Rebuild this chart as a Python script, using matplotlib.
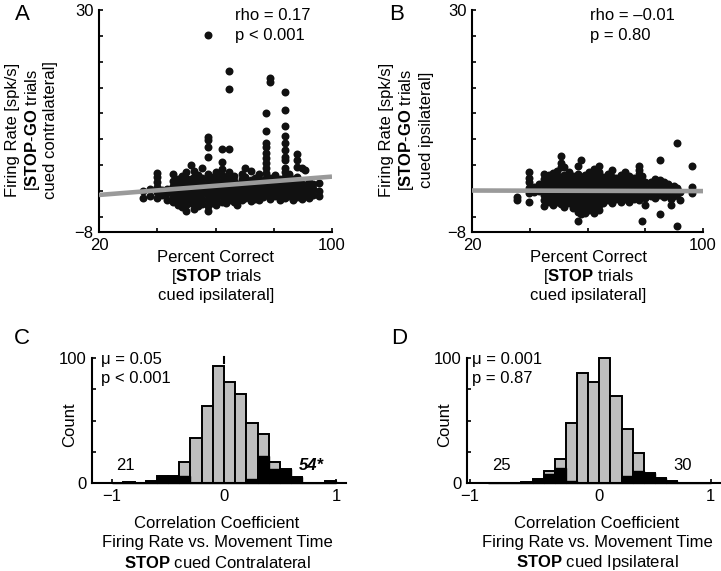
"""
Firing rate vs. percent correct (A, B) and correlation coefficient histograms (C, D).
"""

import numpy as np
import matplotlib
matplotlib.use("Agg")
import matplotlib.pyplot as plt

plt.rcParams["font.family"] = ["Liberation Sans", "DejaVu Sans"]
plt.rcParams["mathtext.fontset"] = "custom"
plt.rcParams["mathtext.rm"] = "Liberation Sans"
plt.rcParams["mathtext.bf"] = "Liberation Sans:bold"
plt.rcParams["mathtext.it"] = "Liberation Sans:italic"

# ---- Panel A: neurons grouped by session (percent correct) ----
a_pct = [35.0, 37.5, 39.8, 41.5, 43.2, 45.5, 47.0, 48.5, 50.0, 51.5, 52.5, 54.0,
         55.5, 57.3, 58.5, 60.0, 62.3, 63.5, 64.6, 66.5, 67.5, 69.0, 70.3, 72.2,
         73.5, 75.0, 76.3, 77.2, 78.7, 80.3, 82.0, 84.0, 85.2, 86.5, 87.9, 89.6,
         90.8, 92.0, 93.5, 95.5]
a_rate = [
    [-2.2, -1.0],
    [-1.8, -0.6],
    [-2.1, -1.2, -0.3, 0.6, 1.4, 2.1],
    [-1.6, -0.8],
    [-2.5, -1.4, -0.6],
    [-2.8, -2.0, -1.1, -0.2, 0.8, 2.0],
    [-3.4, -2.5, -1.6, -0.7, 0.2, 1.0],
    [-3.8, -2.9, -2.0, -1.1, -0.2, 0.7, 1.6],
    [-4.4, -3.4, -2.5, -1.6, -0.7, 0.2, 1.2, 2.2],
    [-3.0, -1.9, -0.9, 0.1, 1.1, 3.5],
    [-4.0, -3.1, -2.2, -1.3, -0.4, 0.6, 1.5, 2.4],
    [-3.6, -2.7, -1.8, -0.9, 0.0, 0.9, 1.8],
    [-3.2, -2.3, -1.4, -0.5, 0.4, 1.3, 2.9],
    [-4.4, -3.5, -2.6, -1.7, -0.8, 0.1, 1.0, 2.0, 4.9, 6.6, 7.7, 8.3, 25.7],
    [-3.0, -2.1, -1.2, -0.3, 0.6, 1.5],
    [-3.3, -2.4, -1.5, -0.6, 0.3, 1.2, 2.2],
    [-2.8, -1.9, -1.0, -0.1, 0.8, 1.7, 2.8, 4.0, 6.2],
    [-3.1, -2.2, -1.3, -0.4, 0.5, 1.4],
    [-2.5, -1.6, -0.7, 0.2, 1.1, 2.2, 6.2, 16.5, 19.6],
    [-2.9, -2.0, -1.1, -0.2, 0.7, 1.6],
    [-3.4, -2.4, -1.5, -0.6, 0.3],
    [-2.6, -1.7, -0.8, 0.1, 1.0, 2.0],
    [-2.2, -1.3, -0.4, 0.5, 1.4, 3.0],
    [-2.7, -1.8, -0.9, 0.0, 0.9, 2.4],
    [-2.3, -1.4, -0.5, 0.4, 1.3],
    [-2.6, -1.7, -0.8, 0.1, 1.0, 1.9],
    [-2.0, -1.1, -0.2, 0.7],
    [-1.5, -0.6, 0.3, 1.2, 2.1, 3.0, 3.8, 4.7, 5.5, 6.6, 7.2, 9.3, 12.3],
    [-2.4, -1.5, -0.6, 0.3, 1.2, 17.7, 18.3],
    [-1.9, -1.0, -0.1, 0.8, 1.7],
    [-2.6, -1.7, -0.8, 0.1, 1.0],
    [-2.2, -1.3, -0.4, 0.5, 1.4, 2.3, 3.0, 4.3, 4.9, 6.0, 7.2, 8.4, 10.1, 12.9, 16.0],
    [-1.8, -0.9, 0.0, 0.9, 2.0],
    [-2.5, -1.6, -0.7, 0.2, 1.1],
    [-2.0, -1.1, -0.2, 0.7, 1.5, 3.2, 4.3, 5.3],
    [-2.4, -1.5, -0.6, 0.3, 3.0],
    [-1.8, -0.9, 0.0, 2.6],
    [-2.2, -1.3, -0.4, 0.5],
    [-1.6, -0.7, 0.2],
    [-1.9, -1.0, 0.4],
]
a_fit = (0.0392, -2.44)          # slope, intercept
a_stats = ["rho = 0.17", "p < 0.001"]

# ---- Panel B ----
b_pct = [35.5, 39.7, 41.5, 43.2, 45.0, 46.5, 48.0, 49.5, 50.8, 52.0, 53.5, 55.0,
         56.6, 57.6, 59.0, 60.5, 62.3, 64.0, 65.5, 67.0, 68.5, 70.0, 71.5, 73.0,
         74.5, 76.0, 77.7, 78.8, 80.0, 82.0, 83.5, 85.0, 86.5, 88.0, 89.0, 90.0,
         91.0, 92.2, 96.1]
b_rate = [
    [-2.0, -2.6],
    [-2.9, -1.4, -0.5, 0.6, 1.3, 2.2],
    [-1.2, -0.3],
    [-1.0, 0.2],
    [-3.6, -2.6, -1.7, -0.8, 0.1, 1.0, 2.0],
    [-2.8, -1.9, -1.0, -0.1, 0.8, 1.7],
    [-3.3, -2.4, -1.5, -0.6, 0.3, 1.2, 2.1],
    [-2.9, -2.0, -1.1, -0.2, 0.7, 1.6, 2.5],
    [-3.2, -2.2, -1.3, -0.4, 0.5, 1.4, 3.2, 3.8, 5.0],
    [-3.7, -2.8, -1.9, -1.0, -0.1, 0.8, 1.7, 3.2],
    [-3.1, -2.2, -1.3, -0.4, 0.5, 1.4, 2.3],
    [-3.9, -2.9, -2.0, -1.1, -0.2, 0.7, 1.6],
    [-6.2, -4.5, -3.5, -2.6, -1.7, -0.8, 0.1, 1.0, 1.9, 3.3],
    [-5.0, -4.0, -3.1, -2.2, -1.3, -0.4, 0.5, 1.4, 4.4],
    [-4.7, -3.7, -2.8, -1.9, -1.0, -0.1, 0.8, 1.7],
    [-4.2, -3.3, -2.4, -1.5, -0.6, 0.3, 1.2, 2.2],
    [-4.7, -3.7, -2.8, -1.9, -1.0, -0.1, 0.8, 1.8, 2.8],
    [-4.3, -3.3, -2.4, -1.5, -0.6, 0.3, 1.2, 2.2, 3.3],
    [-3.0, -2.1, -1.2, -0.3, 0.6, 1.5],
    [-2.6, -1.7, -0.8, 0.1, 1.0, 2.0],
    [-3.0, -2.1, -1.2, -0.3, 0.6, 1.5, 2.6],
    [-2.4, -1.5, -0.6, 0.3, 1.2],
    [-2.9, -2.0, -1.1, -0.2, 0.7, 1.7],
    [-2.4, -1.5, -0.6, 0.3, 1.2, 2.3],
    [-2.8, -1.9, -1.0, -0.1, 0.8, 1.6],
    [-2.3, -1.4, -0.5, 0.4, 1.3],
    [-2.6, -1.7, -0.8, 0.1, 1.0, 1.9, 2.6, 3.3],
    [-6.1, -1.9, -1.0, -0.1, 0.8, 1.6],
    [-3.4, -2.2, -1.3, -0.4, 0.5],
    [-1.8, -0.9, 0.0, 0.6],
    [-2.1, -1.2, -0.3, 0.5, 1.1],
    [-4.9, -1.7, -0.8, 0.1, 0.9, 4.3],
    [-2.0, -1.1, -0.2, 0.5],
    [-1.6, -0.7, 0.2],
    [-3.3, -2.3],
    [-1.8, -0.9, -0.1],
    [-6.9, -1.5, -0.5, 7.2],
    [-2.5, -1.1],
    [-1.4, -0.25, 3.35],
]
b_fit = (-0.00125, -0.875)
b_stats = ["rho = \u20130.01", "p = 0.80"]

# ---- Panels C, D: correlation coefficient histograms (bin width 0.1) ----
bin_left = [-1.0, -0.9, -0.8, -0.7, -0.6, -0.5, -0.4, -0.3, -0.2, -0.1,
            0.0, 0.1, 0.2, 0.3, 0.4, 0.5, 0.6, 0.7, 0.8, 0.9]
c_all = [0, 1, 0, 2, 6, 6, 17, 36, 62, 94, 81, 71, 48, 39, 17, 11, 5, 0, 0, 2]
c_sig = [0, 1, 0, 2, 6, 6, 6, 0, 0, 0, 0, 0, 3, 22, 11, 11, 5, 0, 0, 2]
c_mark = 0.0
c_stats = ["\u03bc = 0.05", "p < 0.001"]
c_tails = ["21", "54*"]

d_all = [0, 0, 0, 1, 3, 10, 19, 48, 88, 81, 100, 70, 43, 24, 8, 4, 2, 0, 0, 0]
d_sig = [0, 0, 0, 1, 3, 7, 12, 2, 0, 0, 0, 0, 6, 10, 8, 4, 2, 0, 0, 0]
d_stats = ["\u03bc = 0.001", "p = 0.87"]
d_tails = ["25", "30"]

W, H = 721, 571
FS = 12


def px(x, y):
    return x / W, 1 - y / H


def style_axes(ax):
    for s in ("top", "right"):
        ax.spines[s].set_visible(False)
    for s in ("left", "bottom"):
        ax.spines[s].set_linewidth(1.5)
    ax.tick_params(direction="in", length=3, width=1.2, labelsize=FS, pad=4)


def scatter_panel(ax, pct, rate, fit, stats, stats_x):
    x = np.concatenate([[p] * len(r) for p, r in zip(pct, rate)])
    y = np.concatenate(rate)
    ax.scatter(x, y, s=33, color="#111111", linewidths=0, zorder=2, clip_on=False)
    xs = np.array([20.0, 100.0])
    ax.plot(xs, fit[0] * xs + fit[1], color="#9a9a9a", lw=3.3,
            solid_capstyle="butt", zorder=3)
    ax.set_xlim(20, 100)
    ax.set_ylim(-8, 30)
    ax.set_xticks([20, 40, 60, 80, 100], ["20", "", "", "", "100"])
    yt = [30, 25.6, 21.1, 16.7, 12.3, 7.9, 3.4, -1.0, -5.4, -8]
    ax.set_yticks(yt, ["30"] + [""] * 8 + ["\u22128"])
    ax.text(stats_x, 29, stats[0], fontsize=FS, va="center", ha="left")
    ax.text(stats_x, 25.6, stats[1], fontsize=FS, va="center", ha="left")
    style_axes(ax)


def hist_panel(ax, counts, sig, stats, tails, tail_x, xlim, xt, stats_x):
    ax.bar(bin_left, counts, width=0.1, align="edge", color="#bebebe",
           edgecolor="black", linewidth=1.4, zorder=2, clip_on=False)
    ax.bar(bin_left, sig, width=0.1, align="edge", color="black",
           edgecolor="black", linewidth=1.0, zorder=3, clip_on=False)
    ax.set_xlim(*xlim)
    ax.set_ylim(0, 100)
    ax.set_xticks(xt, ["\u22121", "0", "1"])
    ax.set_yticks([0, 25, 50, 75, 100], ["0", "", "", "", "100"])
    ax.text(stats_x, 0.99, stats[0], transform=ax.transAxes, fontsize=FS, va="center")
    ax.text(stats_x, 0.84, stats[1], transform=ax.transAxes, fontsize=FS, va="center")
    ax.text(tail_x[0], 13.6, tails[0], fontsize=FS, ha="center", va="center")
    style_axes(ax)


fig = plt.figure(figsize=(W / 100, H / 100), dpi=100)

ax_a = fig.add_axes([99 / W, 1 - 232 / H, 233 / W, 222 / H])
ax_b = fig.add_axes([472 / W, 1 - 232 / H, 231 / W, 222 / H])
ax_c = fig.add_axes([92 / W, 1 - 483 / H, 254 / W, 125 / H])
ax_d = fig.add_axes([467 / W, 1 - 483 / H, 253 / W, 125 / H])

scatter_panel(ax_a, a_pct, a_rate, a_fit, a_stats, 66.7)
scatter_panel(ax_b, b_pct, b_rate, b_fit, b_stats, 60.9)

hist_panel(ax_c, c_all, c_sig, c_stats, c_tails, (-0.88, 0.78), (-1.18, 1.09),
           [-1, 0, 1], 0.035)
ax_c.text(0.78, 13.6, c_tails[1], fontsize=FS, ha="center", va="center",
          fontweight="bold", style="italic")
ax_c.plot([c_mark, c_mark], [96, 100.5], color="black", lw=1.5, clip_on=False, zorder=4)

hist_panel(ax_d, d_all, d_sig, d_stats, d_tails, (-0.88, 0.75), (-1.19, 1.085),
           [-1.165, 0, 1], 0.02)
ax_d.text(0.75, 13.6, d_tails[1], fontsize=FS, ha="center", va="center")

# panel letters
for letter, (x, y) in zip("ABCD", [(22, 14), (397, 14), (22, 338), (399, 338)]):
    fig.text(*px(x, y), letter, fontsize=16, ha="center", va="center")

# scatter axis labels
ylab_a = ["Firing Rate [spk/s]", "[$\\mathbf{STOP}$-$\\mathbf{GO}$ trials", "cued contralateral]"]
ylab_b = ["Firing Rate [spk/s]", "[$\\mathbf{STOP}$-$\\mathbf{GO}$ trials", "cued ipsilateral]"]
for lines, xs in ((ylab_a, (13, 32, 51)), (ylab_b, (387, 407, 427))):
    for txt, x in zip(lines, xs):
        fig.text(*px(x, 130), txt, fontsize=FS, rotation=90, ha="center", va="center")

xlab = ["Percent Correct", "[$\\mathbf{STOP}$ trials", "cued ipsilateral]"]
for xc in (216, 588):
    for txt, y in zip(xlab, (257, 277, 296)):
        fig.text(*px(xc, y), txt, fontsize=FS, ha="center", va="center")

# histogram axis labels
for x in (70, 445):
    fig.text(*px(x, 425), "Count", fontsize=FS, rotation=90, ha="center", va="center")

hlab_c = ["Correlation Coefficient", "Firing Rate vs. Movement Time",
          "$\\mathbf{STOP}$ cued Contralateral"]
hlab_d = ["Correlation Coefficient", "Firing Rate vs. Movement Time",
          "$\\mathbf{STOP}$ cued Ipsilateral"]
for lines, xc in ((hlab_c, 217), (hlab_d, 597)):
    for txt, y in zip(lines, (523, 543, 563)):
        fig.text(*px(xc, y), txt, fontsize=FS, ha="center", va="center")

fig.savefig("out.png", dpi=100)
